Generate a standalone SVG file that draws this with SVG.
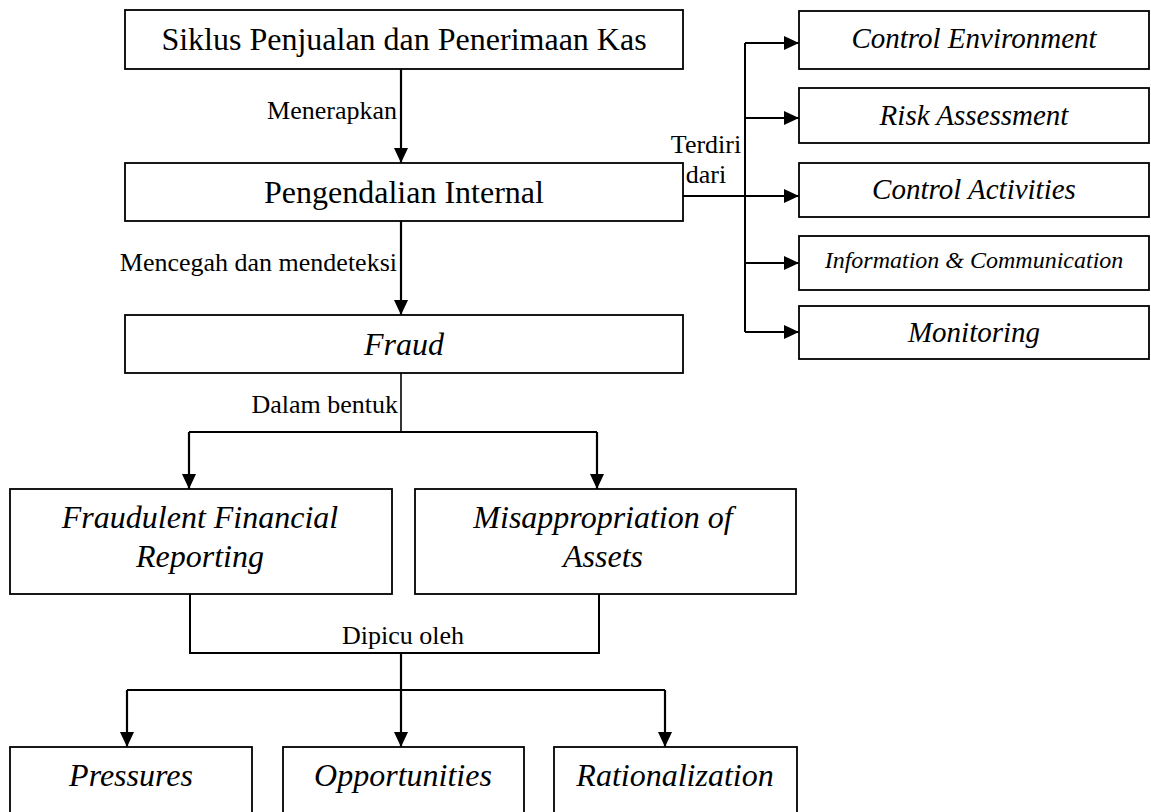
<svg xmlns="http://www.w3.org/2000/svg" width="1151" height="812" viewBox="0 0 1151 812" font-family="Liberation Serif, DejaVu Serif, serif">
<defs>
<marker id="arr" markerWidth="15" markerHeight="14" refX="15" refY="7" orient="auto" markerUnits="userSpaceOnUse"><path d="M0,0 L15,7 L0,14 Z" fill="#000"/></marker>
<style>
.box{fill:#fff;stroke:#000;stroke-width:1.8}
.t{text-anchor:middle}
.i{font-style:italic}
.lbl{font-size:26px}
.c{fill:none;stroke:#000;stroke-width:2}
.a{fill:none;stroke:#000;stroke-width:2.2;marker-end:url(#arr)}
</style>
</defs>
<rect width="1151" height="812" fill="#fff"/>
<g id="connectors">
<line class="a" x1="401" y1="69" x2="401" y2="163"/>
<line class="a" x1="401" y1="221" x2="401" y2="315"/>
<line class="c" x1="683" y1="196" x2="745" y2="196"/>
<line class="c" x1="745" y1="43" x2="745" y2="332"/>
<line class="a" x1="745" y1="43" x2="799" y2="43"/>
<line class="a" x1="745" y1="118" x2="799" y2="118"/>
<line class="a" x1="745" y1="196" x2="799" y2="196"/>
<line class="a" x1="745" y1="263" x2="799" y2="263"/>
<line class="a" x1="745" y1="332" x2="799" y2="332"/>
<line class="c" x1="401" y1="373" x2="401" y2="432" style="stroke-width:1.6"/>
<line class="c" x1="189" y1="432" x2="597" y2="432"/>
<line class="a" x1="189" y1="432" x2="189" y2="489"/>
<line class="a" x1="597" y1="432" x2="597" y2="489"/>
<polyline class="c" points="190,594 190,653 599,653 599,594"/>
<line class="a" x1="401" y1="653" x2="401" y2="747"/>
<line class="c" x1="127" y1="690" x2="665" y2="690"/>
<line class="a" x1="127" y1="690" x2="127" y2="747"/>
<line class="a" x1="665" y1="690" x2="665" y2="747"/>
<text class="lbl" font-family="Liberation Serif" x="397" y="119" text-anchor="end">Menerapkan</text>
<text class="lbl" font-family="Liberation Serif" x="397" y="271" text-anchor="end">Mencegah dan mendeteksi</text>
<text class="lbl" font-family="Liberation Serif" x="706" y="153" text-anchor="middle">Terdiri</text>
<text class="lbl" font-family="Liberation Serif" x="706" y="183" text-anchor="middle">dari</text>
<text class="lbl" font-family="Liberation Serif" x="398" y="413" text-anchor="end">Dalam bentuk</text>
<text class="lbl" font-family="Liberation Serif" x="403" y="644" text-anchor="middle">Dipicu oleh</text>
</g>
<g id="siklus"><rect class="box" x="125" y="10" width="558" height="59"/><text class="t" font-family="Liberation Serif" x="404" y="50" font-size="32">Siklus Penjualan dan Penerimaan Kas</text></g>
<g id="pengendalian"><rect class="box" x="125" y="163" width="558" height="58"/><text class="t" font-family="Liberation Serif" x="404" y="203" font-size="32">Pengendalian Internal</text></g>
<g id="fraud"><rect class="box" x="125" y="315" width="558" height="58"/><text class="t i" font-family="Liberation Serif" x="404" y="355" font-size="32">Fraud</text></g>
<g id="control-environment"><rect class="box" x="799" y="11" width="350" height="58"/><text class="t i" font-family="Liberation Serif" x="974" y="48" font-size="29">Control Environment</text></g>
<g id="risk-assessment"><rect class="box" x="799" y="88" width="350" height="55"/><text class="t i" font-family="Liberation Serif" x="974" y="125" font-size="29">Risk Assessment</text></g>
<g id="control-activities"><rect class="box" x="799" y="163" width="350" height="54"/><text class="t i" font-family="Liberation Serif" x="974" y="199" font-size="29">Control Activities</text></g>
<g id="information-communication"><rect class="box" x="799" y="236" width="350" height="54"/><text class="t i" font-family="Liberation Serif" x="974" y="268" font-size="24">Information &amp; Communication</text></g>
<g id="monitoring"><rect class="box" x="799" y="306" width="350" height="53"/><text class="t i" font-family="Liberation Serif" x="974" y="342" font-size="29">Monitoring</text></g>
<g id="ffr"><rect class="box" x="10" y="489" width="382" height="105"/><text class="t i" font-family="Liberation Serif" x="200" y="528" font-size="32">Fraudulent Financial</text><text class="t i" font-family="Liberation Serif" x="200" y="567" font-size="32">Reporting</text></g>
<g id="moa"><rect class="box" x="415" y="489" width="381" height="105"/><text class="t i" font-family="Liberation Serif" x="603" y="528" font-size="32">Misappropriation of</text><text class="t i" font-family="Liberation Serif" x="603" y="567" font-size="32">Assets</text></g>
<g id="pressures"><rect class="box" x="10" y="747" width="242" height="90"/><text class="t i" font-family="Liberation Serif" x="131" y="786" font-size="32">Pressures</text></g>
<g id="opportunities"><rect class="box" x="283" y="747" width="241" height="90"/><text class="t i" font-family="Liberation Serif" x="403" y="786" font-size="32">Opportunities</text></g>
<g id="rationalization"><rect class="box" x="554" y="747" width="243" height="90"/><text class="t i" font-family="Liberation Serif" x="675" y="786" font-size="32">Rationalization</text></g>
</svg>
